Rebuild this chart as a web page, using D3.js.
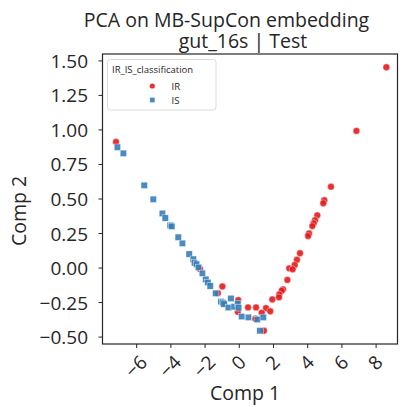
<!DOCTYPE html>
<html>
<head>
<meta charset="utf-8">
<script src="https://cdn.jsdelivr.net/npm/d3@7"></script>
<style>
  body { margin: 0; background: #fff; }
  text { font-family: "Open Sans", "Noto Sans", sans-serif; fill: #262626; }
</style>
</head>
<body>
<div id="canvas"></div>
<script>
// THE DATA
const classes = ["IR", "IS"];
const irX = [-7.21, 8.60, 6.85, 5.36, 4.97, 4.91, 4.56, 4.43, 4.35, 4.27, 4.08, 4.02, 3.55, 3.37, 3.24, 2.92, 3.12, 2.81,
             2.56, 2.48, 2.34, 2.32, 1.93, 1.56, 1.81, 1.31, 0.98, 0.51, 0.94, -0.06, -0.09, -0.99, -1.25, -2.30, 1.44];
const irY = [0.913, 1.454, 0.993, 0.589, 0.491, 0.469, 0.382, 0.346, 0.324, 0.304, 0.251, 0.232, 0.107, 0.060, 0.022, -0.002, -0.009, -0.086,
             -0.154, -0.164, -0.191, -0.212, -0.227, -0.290, -0.313, -0.324, -0.285, -0.285, -0.367, -0.232, -0.317, -0.133, -0.181, -0.007, -0.454];
const isX = [-7.13, -6.78, -5.56, -5.03, -4.50, -4.33, -4.04, -3.95, -3.57, -3.33, -2.93, -2.69, -2.62, -2.50, -2.39, -2.16, -1.96,
             -1.84, -1.70, -1.38, -1.07, -0.96, -0.89, -0.64, -0.49, -0.30, -0.09, -0.04, 0.14, 0.53, 1.05, 1.40, 1.21];
const isY = [0.875, 0.831, 0.599, 0.498, 0.396, 0.362, 0.309, 0.302, 0.223, 0.179, 0.101, 0.064, 0.038, 0.028, 0.005, -0.038, -0.082,
             -0.105, -0.130, -0.183, -0.243, -0.252, -0.261, -0.286, -0.220, -0.280, -0.256, -0.288, -0.351, -0.357, -0.372, -0.357, -0.454];
const xTicks = [-6, -4, -2, 0, 2, 4, 6, 8];
const yTicks = [-0.5, -0.25, 0, 0.25, 0.5, 0.75, 1.0, 1.25, 1.5];

const width = 405;
const height = 407;
const colors = {IR: "#e41a1c", IS: "#377eb8"};

const svg = d3.select("#canvas")
    .append("svg")
    .attr("width", width)
    .attr("height", height);

const x = d3.scaleLinear().domain([-8.0, 9.25]).range([102.5, 397.5]);
const y = d3.scaleLinear().domain([-0.55, 1.55]).range([344, 54]);

// points: IR first, IS drawn on top
const irPts = irX.map((v, i) => ({x: v, y: irY[i]}));
const isPts = isX.map((v, i) => ({x: v, y: isY[i]}));

svg.append("g").selectAll("circle")
    .data(irPts).join("circle")
    .attr("cx", d => x(d.x))
    .attr("cy", d => y(d.y))
    .attr("r", 3.4)
    .attr("fill", colors.IR)
    .attr("fill-opacity", 0.9)
    .attr("stroke", "#fff")
    .attr("stroke-width", 0.4);

const sq = 6.4;
svg.append("g").selectAll("rect")
    .data(isPts).join("rect")
    .attr("x", d => x(d.x) - sq / 2)
    .attr("y", d => y(d.y) - sq / 2)
    .attr("width", sq)
    .attr("height", sq)
    .attr("fill", colors.IS)
    .attr("fill-opacity", 0.9)
    .attr("stroke", "#fff")
    .attr("stroke-width", 0.4);

// frame
svg.append("rect")
    .attr("x", x.range()[0]).attr("y", y.range()[1])
    .attr("width", x.range()[1] - x.range()[0])
    .attr("height", y.range()[0] - y.range()[1])
    .attr("fill", "none")
    .attr("stroke", "#262626")
    .attr("stroke-width", 1.2);

// y axis
const fmtY = d3.format(".2f");
const yg = svg.append("g");
yTicks.forEach(function(t){
    yg.append("line")
        .attr("x1", x.range()[0] - 4).attr("x2", x.range()[0])
        .attr("y1", y(t)).attr("y2", y(t))
        .attr("stroke", "#262626").attr("stroke-width", 1);
    yg.append("text")
        .attr("x", 88)
        .attr("y", y(t))
        .attr("text-anchor", "end")
        .attr("dominant-baseline", "central")
        .attr("font-size", 19)
        .text(fmtY(t));
});

// x axis, labels rotated 45 deg like matplotlib
const fmtX = d3.format("d");
const xg = svg.append("g");
xTicks.forEach(function(t){
    xg.append("line")
        .attr("x1", x(t)).attr("x2", x(t))
        .attr("y1", y.range()[0]).attr("y2", y.range()[0] + 4)
        .attr("stroke", "#262626").attr("stroke-width", 1);
    let lbl = xg.append("text")
        .attr("text-anchor", "middle")
        .attr("dominant-baseline", "central")
        .attr("font-size", 19)
        .text(fmtX(t));
    let w = lbl.node().getComputedTextLength();
    let h = 13;                                   // rough glyph height
    let half = (w + h) * Math.SQRT1_2 / 2;        // half of the rotated box height
    let cx = x(t) - 1, cy = 354 + half;
    lbl.attr("transform", `translate(${cx},${cy}) rotate(-45)`);
});

// axis titles
svg.append("text")
    .attr("x", 245).attr("y", 400)
    .attr("text-anchor", "middle")
    .attr("font-size", 19.5)
    .text("Comp 1");
svg.append("text")
    .attr("transform", "translate(26,211) rotate(-90)")
    .attr("text-anchor", "middle")
    .attr("font-size", 19.5)
    .text("Comp 2");

// title, two lines in one text
const title = svg.append("text")
    .attr("text-anchor", "middle")
    .attr("font-size", 19.5);
title.append("tspan")
    .attr("x", 226.5).attr("y", 27)
    .text("PCA on MB-SupCon embedding");
title.append("tspan")
    .attr("x", 243).attr("y", 48)
    .text("gut_16s | Test");

// legend
const lg = svg.append("g");
lg.append("rect")
    .attr("x", 107.5).attr("y", 59.5)
    .attr("width", 108.5).attr("height", 50.5)
    .attr("rx", 3)
    .attr("fill", "#fff").attr("fill-opacity", 0.8)
    .attr("stroke", "#d0d0d0").attr("stroke-width", 0.8);
lg.append("text")
    .attr("x", 112).attr("y", 72.5)
    .attr("font-size", 9.5)
    .text("IR_IS_classification");
classes.forEach(function(c, i){
    let yy = 86 + i * 14;
    if (c === "IR")
        lg.append("circle").attr("cx", 152.3).attr("cy", yy).attr("r", 2.6)
            .attr("fill", colors.IR).attr("fill-opacity", 0.9);
    else
        lg.append("rect").attr("x", 152.3 - 2.4).attr("y", yy - 2.4).attr("width", 4.8).attr("height", 4.8)
            .attr("fill", colors.IS).attr("fill-opacity", 0.9);
    lg.append("text")
        .attr("x", 171.5).attr("y", yy)
        .attr("dominant-baseline", "central")
        .attr("font-size", 9.5)
        .text(c);
});
</script>
</body>
</html>
